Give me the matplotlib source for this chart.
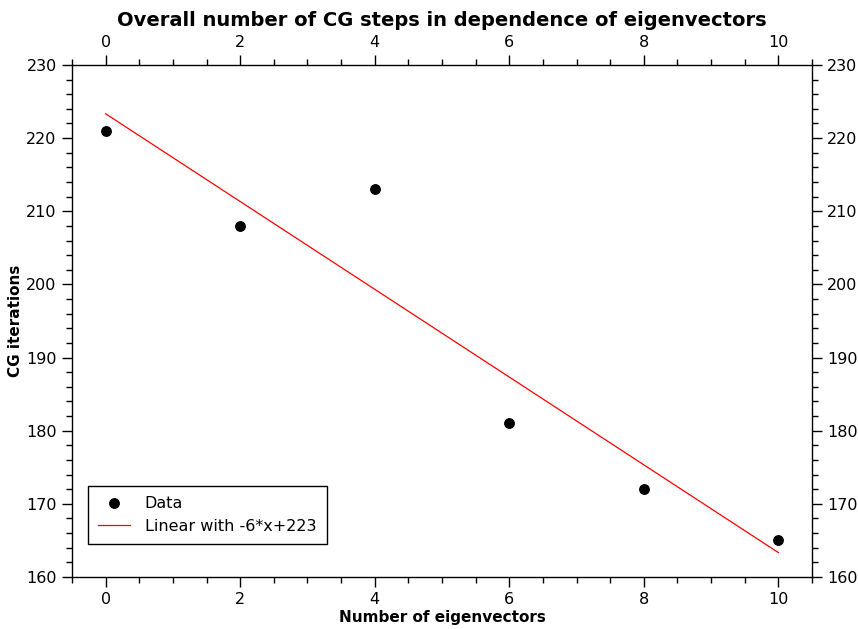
import numpy as np
import matplotlib
matplotlib.use("Agg")
from matplotlib import pyplot as plt
from matplotlib.ticker import MultipleLocator

# number of eigenvectors vs. total CG iterations
eigenvectors = [0, 2, 4, 6, 8, 10]
cg_iterations = [221, 208, 213, 181, 172, 165]

plt.rcParams['font.family'] = ['DejaVu Sans']


def main():
    fig = plt.figure(figsize=(8.58, 6.29), dpi=100)
    ax = fig.add_axes([0.0839, 0.0827, 0.8625, 0.814])

    x = np.array(eigenvectors, dtype=float)
    y = np.array(cg_iterations, dtype=float)
    slope, intercept = np.polyfit(x, y, 1)

    ax.plot(x, y, 'o', color='black', markersize=6.8, label='Data', zorder=3)
    xs = np.array([x.min(), x.max()])
    ax.plot(xs, slope * xs + intercept, color='red', linewidth=0.9,
            label=f'Linear with {slope:.0f}*x+{intercept:.0f}')

    ax.set_xlim(-0.5, 10.5)
    ax.set_ylim(160, 230)
    ax.xaxis.set_major_locator(MultipleLocator(2))
    ax.xaxis.set_minor_locator(MultipleLocator(0.5))
    ax.yaxis.set_major_locator(MultipleLocator(10))
    ax.yaxis.set_minor_locator(MultipleLocator(2))

    ax.tick_params(which='both', direction='out', top=True, right=True,
                   labeltop=True, labelright=True, labelsize=11.5, width=1)
    ax.tick_params(which='major', length=7, pad=4)
    ax.tick_params(which='minor', length=4.5)
    for sp in ax.spines.values():
        sp.set_linewidth(1)

    ax.set_title('Overall number of CG steps in dependence of eigenvectors',
                 fontsize=14, fontweight='bold', pad=28)
    ax.set_xlabel('Number of eigenvectors', fontsize=11, fontweight='bold',
                  labelpad=2)
    ax.set_ylabel('CG iterations', fontsize=11, fontweight='bold', labelpad=2)

    leg = ax.legend(loc='lower left', bbox_to_anchor=(0.0216, 0.0645),
                    borderaxespad=0, fontsize=11.5, fancybox=False,
                    edgecolor='black', framealpha=1, borderpad=0.65,
                    handlelength=2.0, handletextpad=0.9, labelspacing=0.45)
    leg.get_frame().set_linewidth(1)

    fig.savefig('out.png', dpi=100)


if __name__ == "__main__":
    main()
